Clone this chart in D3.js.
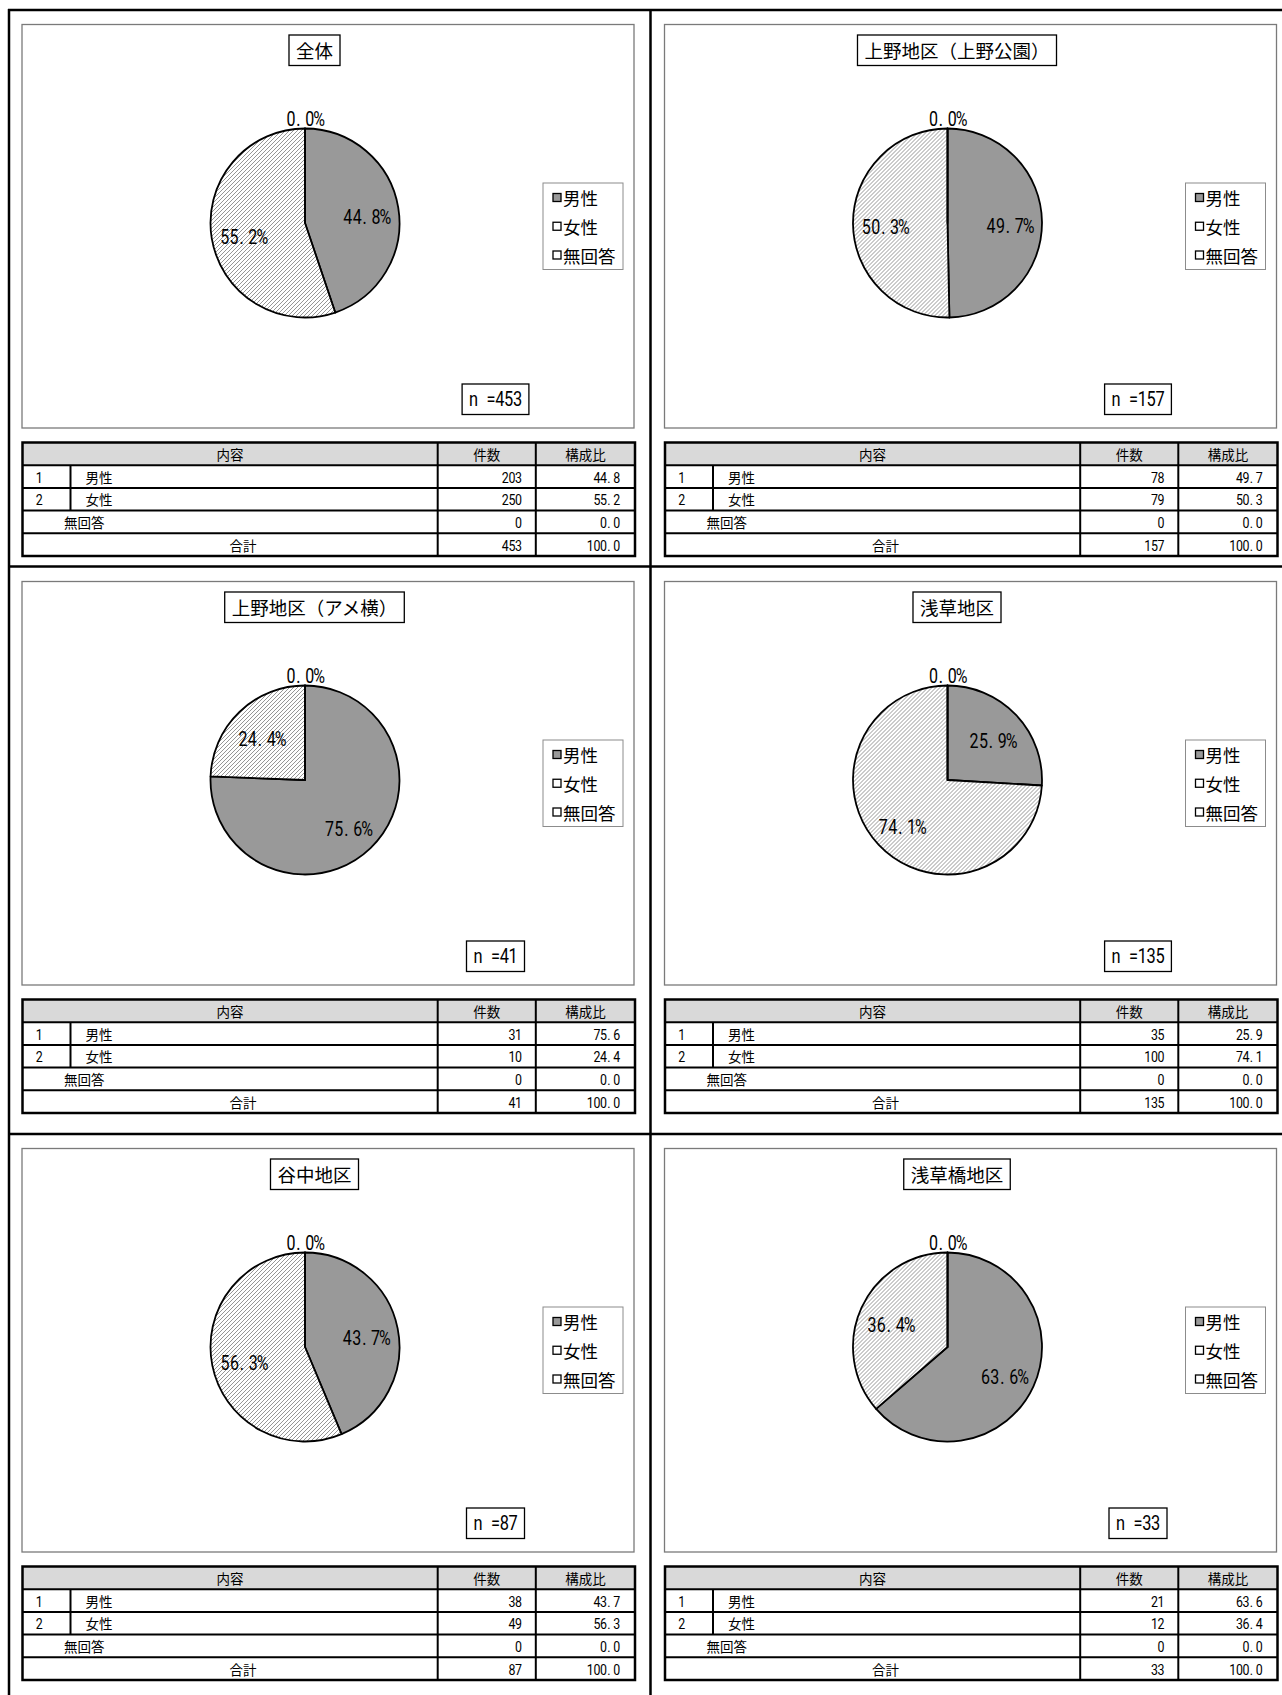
<!DOCTYPE html>
<html><head><meta charset="utf-8">
<script src="https://cdn.jsdelivr.net/npm/d3@7"></script>
<style>body{margin:0;background:#fff} svg{display:block}</style>
</head><body>
<svg id="c" width="1282" height="1695"></svg>
<script>
// ---- data ----
const panelTitles = ["全体", "上野地区（上野公園）", "上野地区（アメ横）", "浅草地区", "谷中地区", "浅草橋地区"];
const categories = ["男性", "女性", "無回答"];
const maleCounts = [203, 78, 31, 35, 38, 21];
const femaleCounts = [250, 79, 10, 100, 49, 12];
const noAnswerCounts = [0, 0, 0, 0, 0, 0];
const totalCounts = [453, 157, 41, 135, 87, 33];
const malePct = [44.8, 49.7, 75.6, 25.9, 43.7, 63.6];
const femalePct = [55.2, 50.3, 24.4, 74.1, 56.3, 36.4];
const noAnswerPct = [0.0, 0.0, 0.0, 0.0, 0.0, 0.0];
const tableHeaders = ["内容", "件数", "構成比"];
const totalLabel = "合計";

// ---- style ----
const JP = "'Noto Sans CJK JP','Noto Sans',sans-serif";
const NUM = "Roboto,'Liberation Sans','Noto Sans',sans-serif";
const svg = d3.select("#c");
const defs = svg.append("defs");
const pat = defs.append("pattern").attr("id", "hatch").attr("patternUnits", "userSpaceOnUse")
  .attr("width", 4).attr("height", 4);
pat.append("rect").attr("width", 4).attr("height", 4).attr("fill", "#fff");
pat.append("path").attr("d", "M-1,1 l2,-2 M0,4 l4,-4 M3,5 l2,-2")
  .attr("stroke", "#8a8a8a").attr("stroke-width", 0.9);
const fills = ["#999999", "url(#hatch)", "#ffffff"];
const legendFills = ["#999999", "#ffffff", "#ffffff"];
const colorScale = d3.scaleOrdinal().domain(categories).range(fills);
const legendScale = d3.scaleOrdinal().domain(categories).range(legendFills);
const fmt1 = d3.format(".1f");

// half-width "cell" text, mimicking a monospaced Japanese UI font
function cellText(parent, str, x, y, size, cw, anchor) {
  const n = str.length, total = n * cw, sx = 0.8;
  const start = anchor === "end" ? x - total : anchor === "middle" ? x - total / 2 : x;
  const t = parent.append("text").attr("transform", `translate(${start},${y}) scale(${sx},1)`)
    .attr("font-family", NUM).attr("font-size", size).attr("dominant-baseline", "central").attr("fill", "#000");
  [...str].forEach((ch, k) => {
    t.append("tspan").attr("x", (k * cw + cw / 2 + (ch === "." ? -cw * 0.2 : 0)) / sx).attr("y", 0)
      .attr("text-anchor", "middle").text(ch);
  });
  return t;
}

// ---- frame ----
const frame = svg.append("g").attr("stroke", "#000").attr("stroke-width", 2.5);
frame.append("line").attr("x1", 9).attr("x2", 9).attr("y1", 9).attr("y2", 1695);
frame.append("line").attr("x1", 650.5).attr("x2", 650.5).attr("y1", 9).attr("y2", 1695);
[10, 566.5, 1134].forEach(y => frame.append("line").attr("x1", 8).attr("x2", 1282).attr("y1", y).attr("y2", y));

const colOff = [0, 642.5];
const rowOff = [0, 557, 1124];
const R = 94.5;

panelTitles.forEach((title, i) => {
  const g = svg.append("g").attr("transform", `translate(${colOff[i % 2]},${rowOff[Math.floor(i / 2)]})`);
  // chart area
  g.append("rect").attr("x", 22).attr("y", 24.5).attr("width", 612).attr("height", 403.5)
    .attr("fill", "#fff").attr("stroke", "#7a7a7a").attr("stroke-width", 1.3);

  // title
  const tg = g.append("g");
  const tt = tg.append("text").attr("x", 314.5).attr("y", 50).attr("text-anchor", "middle")
    .attr("dominant-baseline", "central").attr("font-family", JP).attr("font-size", 18.5).text(title);
  const tb = tt.node().getBBox();
  tg.insert("rect", "text").attr("x", 314.5 - tb.width / 2 - 7).attr("y", 35).attr("width", tb.width + 14)
    .attr("height", 30.5).attr("fill", "#fff").attr("stroke", "#000").attr("stroke-width", 1.3);

  // pie
  const values = [maleCounts[i], femaleCounts[i], noAnswerCounts[i]];
  const pcts = [malePct[i], femalePct[i], noAnswerPct[i]];
  const arcs = d3.pie().sort(null).value(d => d)(values);
  arcs.forEach((a, j) => { a.cat = categories[j]; a.pct = pcts[j]; });
  const arc = d3.arc().innerRadius(0).outerRadius(R);
  const inLab = d3.arc().innerRadius(R * 0.66).outerRadius(R * 0.66);
  const outLab = d3.arc().innerRadius(R + 10).outerRadius(R + 10);
  const pg = g.append("g").attr("transform", "translate(305,223)");
  pg.selectAll("path").data(arcs).join("path").attr("d", arc)
    .attr("fill", d => colorScale(d.cat)).attr("stroke", "#000").attr("stroke-width", 1.8)
    .attr("stroke-linejoin", "round");
  const lab = pg.append("g");
  arcs.forEach(d => {
    const p = (d.value > 0 ? inLab : outLab).centroid(d);
    cellText(lab, fmt1(d.pct) + "%", p[0], p[1] + (d.value > 0 ? 3 : -0.5), 20, 9.4, "middle");
  });

  // legend
  const lg = g.append("g");
  lg.append("rect").attr("x", 543).attr("y", 183).attr("width", 80).attr("height", 86.5)
    .attr("fill", "#fff").attr("stroke", "#8c8c8c").attr("stroke-width", 1);
  const ly = d3.scalePoint().domain(categories).range([197.5, 255]);
  categories.forEach(c => {
    lg.append("rect").attr("x", 553).attr("y", ly(c) - 4).attr("width", 8).attr("height", 8)
      .attr("fill", legendScale(c)).attr("stroke", "#000").attr("stroke-width", 1.3);
    lg.append("text").attr("x", 563).attr("y", ly(c)).attr("dominant-baseline", "central")
      .attr("font-family", JP).attr("font-size", 17.5).text(c);
  });

  // n box
  const nStr = "n =" + totalCounts[i];
  const nw = nStr.length * 8.8;
  g.append("rect").attr("x", 495.5 - nw / 2 - 7).attr("y", 384).attr("width", nw + 14).attr("height", 30.5)
    .attr("fill", "#fff").attr("stroke", "#000").attr("stroke-width", 1.3);
  cellText(g, nStr, 495.5, 399.5, 20.5, 8.8, "middle");

  // table
  const T = g.append("g");
  const x0 = 22.5, x1 = 70.5, x2 = 437.7, x3 = 535.8, x4 = 635;
  const rowY = d3.scaleLinear().domain([0, 5]).range([442.5, 556]);
  T.append("rect").attr("x", x0).attr("y", rowY(0)).attr("width", x4 - x0).attr("height", rowY(1) - rowY(0))
    .attr("fill", "#d9d9d9");
  const rows = [
    { no: "1", label: categories[0], n: maleCounts[i], p: malePct[i] },
    { no: "2", label: categories[1], n: femaleCounts[i], p: femalePct[i] },
    { no: "", label: categories[2], n: noAnswerCounts[i], p: noAnswerPct[i] },
    { no: "", label: totalLabel, n: totalCounts[i], p: 100.0 }
  ];
  const FS = 13.5;
  [[tableHeaders[0], (x0 + x2) / 2], [tableHeaders[1], (x2 + x3) / 2], [tableHeaders[2], (x3 + x4) / 2]].forEach(([t, x]) => {
    T.append("text").attr("x", x).attr("y", (rowY(0) + rowY(1)) / 2).attr("text-anchor", "middle")
      .attr("dominant-baseline", "central").attr("font-family", JP).attr("font-size", FS).text(t);
  });
  rows.forEach((r, k) => {
    const cy = (rowY(k + 1) + rowY(k + 2)) / 2;
    if (r.no) {
      cellText(T, r.no, 36, cy + 0.5, 15.5, 6.6, "start");
      T.append("text").attr("x", 85.5).attr("y", cy).attr("dominant-baseline", "central")
        .attr("font-family", JP).attr("font-size", FS).text(r.label);
    } else if (k === 2) {
      T.append("text").attr("x", 64).attr("y", cy).attr("dominant-baseline", "central")
        .attr("font-family", JP).attr("font-size", FS).text(r.label);
    } else {
      T.append("text").attr("x", 243).attr("y", cy).attr("text-anchor", "middle").attr("dominant-baseline", "central")
        .attr("font-family", JP).attr("font-size", FS).text(r.label);
    }
    cellText(T, String(r.n), x3 - 14, cy + 0.5, 15.5, 6.6, "end");
    cellText(T, fmt1(r.p), x4 - 15, cy + 0.5, 15.5, 6.6, "end");
  });
  const L = T.append("g").attr("stroke", "#000").attr("fill", "none");
  d3.range(1, 5).forEach(k => L.append("line").attr("x1", x0).attr("x2", x4).attr("y1", rowY(k)).attr("y2", rowY(k)).attr("stroke-width", 2));
  L.append("line").attr("x1", x1).attr("x2", x1).attr("y1", rowY(1)).attr("y2", rowY(3)).attr("stroke-width", 2);
  [x2, x3].forEach(x => L.append("line").attr("x1", x).attr("x2", x).attr("y1", rowY(0)).attr("y2", rowY(5)).attr("stroke-width", 2));
  L.append("rect").attr("x", x0).attr("y", rowY(0)).attr("width", x4 - x0).attr("height", rowY(5) - rowY(0)).attr("stroke-width", 2.5);
});
</script>
</body></html>
